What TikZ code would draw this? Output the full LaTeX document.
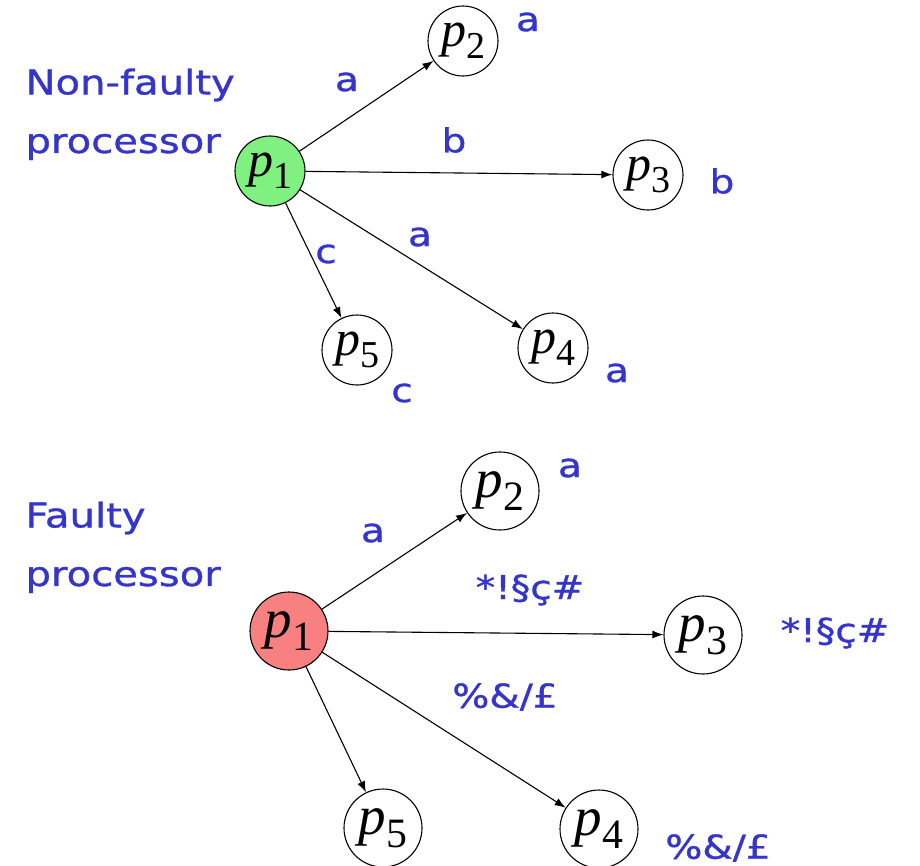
\documentclass[tikz,border=0pt]{standalone}
\usepackage{fontspec}
\usetikzlibrary{arrows.meta}
\newfontfamily\lblfont[FakeStretch=1.18,FakeBold=1]{DejaVu Sans}
\newfontfamily\procfont{Liberation Serif}
\newfontfamily\procitfont{Liberation Serif Italic}
\definecolor{MsgBlue}{HTML}{3535CC}
\definecolor{GoodGreen}{HTML}{80F080}
\definecolor{BadRed}{HTML}{F88080}
\newcommand\pid[1]{{\procitfont p}\raisebox{-0.24em}{\procfont\scalebox{0.76}{#1}}}
\tikzset{
  proc/.style={circle,draw=black,line width=1.1pt,inner sep=0pt,minimum size=70pt,
    font=\fontsize{50}{50}\selectfont},
  bigproc/.style={proc,minimum size=78pt,font=\fontsize{55}{55}\selectfont},
  msg/.style={MsgBlue,font=\lblfont\fontsize{33}{35}\selectfont},
  side/.style={MsgBlue,anchor=west,font=\lblfont\fontsize{34}{36}\selectfont},
  send/.style={-{Latex[length=11pt,width=8pt]},line width=1.1pt}
}
\begin{document}
\begin{tikzpicture}[x=1pt,y=-1pt]
  \useasboundingbox (0,0) rectangle (920,865);
  % non-faulty sender
  \node[side] (nflabA) at (22,85) {Non-faulty};
  \node[side] (nflabB) at (22,147) {processor};
  \node[proc,fill=GoodGreen] (ga) at (270,171) {\pid1};
  \node[proc] (gb) at (463,41) {\pid2};
  \node[proc] (gc) at (648,175) {\pid3};
  \node[proc] (gd) at (553,348) {\pid4};
  \node[proc] (ge) at (357,350) {\pid5};
  \draw[send] (ga) -- (gb);
  \draw[send] (ga) -- (gc);
  \draw[send] (ga) -- (gd);
  \draw[send] (ga) -- (ge);
  \node[msg] (gmb) at (347,82) {a};
  \node[msg] (gmc) at (454,140) {b};
  \node[msg] (gmd) at (420,237) {a};
  \node[msg] (gme) at (326,254) {c};
  \node[msg] (grb) at (528,22) {a};
  \node[msg] (grc) at (722,181) {b};
  \node[msg] (grd) at (617,373) {a};
  \node[msg] (gre) at (402,393) {c};
  % faulty sender
  \node[side] (fllabA) at (22,518) {Faulty};
  \node[side] (fllabB) at (22,580) {processor};
  \node[bigproc,fill=BadRed] (fa) at (289,631) {\pid1};
  \node[bigproc] (fb) at (500,491) {\pid2};
  \node[bigproc] (fc) at (703,635) {\pid3};
  \node[bigproc] (fd) at (599,829) {\pid4};
  \node[bigproc] (fe) at (383,828) {\pid5};
  \draw[send] (fa) -- (fb);
  \draw[send] (fa) -- (fc);
  \draw[send] (fa) -- (fd);
  \draw[send] (fa) -- (fe);
  \node[msg] (fmb) at (373,533) {a};
  \node[msg] (fmc) at (530,590) {*!§ç\#};
  \node[msg] (fmd) at (505,697) {\%\&/£};
  \node[msg] (frb) at (570,468) {a};
  \node[msg] (frc) at (835,633) {*!§ç\#};
  \node[msg] (frd) at (718,848) {\%\&/£};
\end{tikzpicture}
\end{document}
